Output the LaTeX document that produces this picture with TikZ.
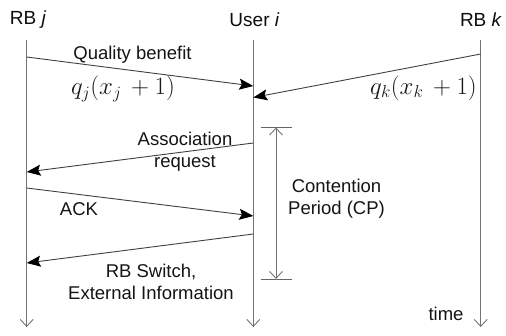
\documentclass[tikz,border=0pt]{standalone}
\usepackage{fontspec}
\setmainfont{Liberation Sans}
\usetikzlibrary{arrows.meta,calc}
\begin{document}
\begin{tikzpicture}[x=1pt,y=-1pt,
  lifeline/.style={draw=black!55,line width=0.9pt,-{Straight Barb[length=7pt,width=13pt,line width=0.9pt]}},
  msg/.style={draw=black!75,line width=0.9pt,-{Stealth[length=14pt,width=11pt,inset=2.5pt,color=black]}},
  head/.style={font=\fontsize{19}{22}\selectfont,text=black!95,inner sep=0pt},
  lbl/.style={font=\fontsize{18.5}{22}\selectfont,text=black!92,inner sep=0pt,align=center},
  mth/.style={font=\fontsize{24}{27}\selectfont,text=black!90,inner sep=0pt},
  cpbar/.style={draw=black!60,line width=0.9pt}]
\useasboundingbox (0,0) rectangle (506,335);

% participants
\node[head] (hj) at (28,20) {RB \textit{j}};
\node[head] (hi) at (254.5,20) {User \textit{i}};
\node[head] (hk) at (481,20) {RB \textit{k}};

% lifelines
\coordinate (jt) at (26.7,40);  \coordinate (jb) at (26.7,327);
\coordinate (it) at (253.3,40); \coordinate (ib) at (253.3,327);
\coordinate (kt) at (480.7,40); \coordinate (kb) at (480.7,327);
\draw[lifeline] (jt) -- (jb);
\draw[lifeline] (it) -- (ib);
\draw[lifeline] (kt) -- (kb);

% message end points
\coordinate (m1s) at (26.7,57);   \coordinate (m1e) at (253.3,86);
\coordinate (m2s) at (480.7,54);  \coordinate (m2e) at (253.3,97.5);
\coordinate (m3s) at (253.3,143); \coordinate (m3e) at (26.7,172);
\coordinate (m4s) at (26.7,188);  \coordinate (m4e) at (253.3,216);
\coordinate (m5s) at (253.3,234); \coordinate (m5e) at (26.7,263);

\draw[msg] (m1s) -- (m1e);
\draw[msg] (m2s) -- (m2e);
\draw[msg] (m3s) -- (m3e);
\draw[msg] (m4s) -- (m4e);
\draw[msg] (m5s) -- (m5e);

% message labels
\node[lbl] (l1) at (132.5,55) {Quality benefit};
\node[mth] (q1) at (123,89) {$q_j(x_j\,+1)$};
\node[mth] (q2) at (423.5,88) {$q_k(x_k\,+1)$};
\node[lbl] (l3) at (185,152) {Association\\request};
\node[lbl] (l4) at (79,209) {ACK};
\node[lbl] (l5) at (151,282) {RB Switch,\\External Information};

% contention period
\coordinate (cpt) at (276,127.5); \coordinate (cpb) at (276,279);
\coordinate (cpm) at ($(cpt)!0.5!(cpb)$);
\coordinate (cptl) at (261,127.5); \coordinate (cptr) at (291.5,127.5);
\coordinate (cpbl) at (261,279);   \coordinate (cpbr) at (291.5,279);
\draw[cpbar] (cptl) -- (cptr);
\draw[cpbar] (cpbl) -- (cpbr);
\draw[lifeline] (cpm) -- (cpt);
\draw[lifeline] (cpm) -- (cpb);
\node[lbl] (cp) at (336.5,198.5) {Contention\\Period (CP)};

\node[lbl] (tm) at (446,314) {time};
\end{tikzpicture}
\end{document}
